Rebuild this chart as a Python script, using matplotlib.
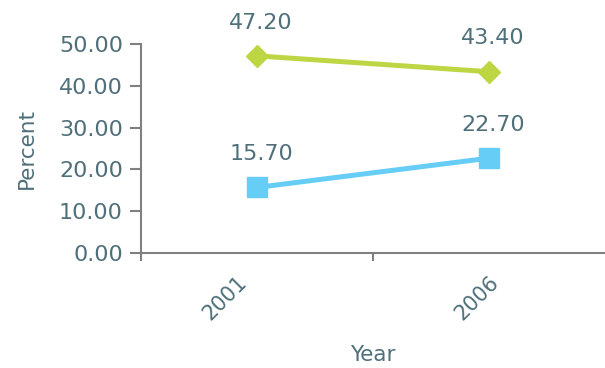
import matplotlib.pyplot as plt
from matplotlib.transforms import ScaledTranslation

years = ['2001', '2006']
green_vals = [47.20, 43.40]
blue_vals = [15.70, 22.70]
yticks = [0, 10, 20, 30, 40, 50]

text_col = '#4f6f7a'
plt.rcParams['font.family'] = ['DejaVu Sans']

fig = plt.figure(figsize=(6.05, 3.68), dpi=100)
ax = fig.add_axes([0.233, 0.3125, 0.767, 0.5675])

x = range(len(years))
ax.plot(x, green_vals, color='#bdd643', lw=3.6, marker='D', markersize=11.5, clip_on=False, zorder=3)
ax.plot(x, blue_vals, color='#66cdf6', lw=3.6, marker='s', markersize=14, clip_on=False, zorder=3)

for xi, v in zip(x, green_vals):
    ax.annotate(f'{v:.2f}', (xi, v), xytext=(3, 24), textcoords='offset points',
                ha='center', va='center', fontsize=16, color=text_col)
for xi, v in zip(x, blue_vals):
    ax.annotate(f'{v:.2f}', (xi, v), xytext=(3, 24), textcoords='offset points',
                ha='center', va='center', fontsize=16, color=text_col)

ax.set_xlim(-0.5, 1.5)
ax.set_ylim(0, 50)
ax.set_yticks(yticks)
ax.set_yticklabels([f'{t:.2f}' for t in yticks])
ax.set_xticks([-0.5, 0.5], minor=False)
ax.set_xticklabels(['', ''])
ax.set_xticks(list(x), minor=True)
ax.set_xticklabels(years, minor=True, rotation=45, ha='right', rotation_mode='anchor')
ax.tick_params(axis='x', which='minor', length=0, pad=14, labelsize=15, labelcolor=text_col)
ax.tick_params(axis='x', which='major', length=6, color='#808080', width=1.5)
ax.tick_params(axis='y', length=8, color='#808080', width=1.5, labelsize=16, labelcolor=text_col, pad=5)

# nudge the first year label left a bit, like the original
lbl = ax.get_xticklabels(minor=True)[0]
lbl.set_transform(lbl.get_transform() + ScaledTranslation(-0.2, 0, fig.dpi_scale_trans))

for s in ['top', 'right']:
    ax.spines[s].set_visible(False)
for s in ['left', 'bottom']:
    ax.spines[s].set_color('#808080')
    ax.spines[s].set_linewidth(1.5)

ax.set_ylabel('Percent', fontsize=15.5, color=text_col, labelpad=16)
ax.set_xlabel('Year', fontsize=15.5, color=text_col, labelpad=15)

fig.savefig('out.png', dpi=100)
